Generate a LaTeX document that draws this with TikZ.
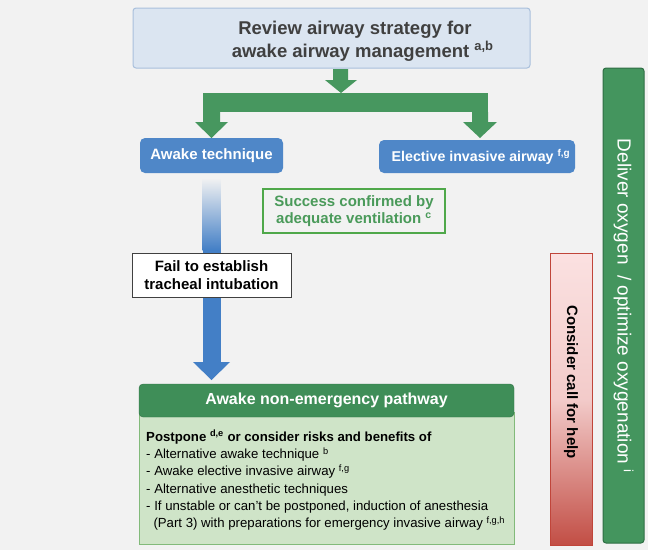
\documentclass[tikz,border=0pt]{standalone}
\usepackage{fontspec}
\setmainfont{Liberation Sans}
\definecolor{bg}{HTML}{F2F2F2}
\definecolor{titlefill}{HTML}{DBE5F1}
\definecolor{titledraw}{HTML}{A9C0DC}
\definecolor{titletext}{HTML}{404040}
\definecolor{arrgreen}{HTML}{47975F}
\definecolor{boxblue}{HTML}{4F87C8}
\definecolor{succgreen}{HTML}{4A9A5A}
\definecolor{succdraw}{HTML}{4FA84A}
\definecolor{headgreen}{HTML}{3F8E58}
\definecolor{bodygreen}{HTML}{CFE4C8}
\definecolor{bodydraw}{HTML}{82BA7A}
\definecolor{redtop}{HTML}{FBE1E1}
\definecolor{redbot}{HTML}{C24E45}
\definecolor{reddraw}{HTML}{C0453A}
\definecolor{barblue}{HTML}{437FC6}
\definecolor{bargreen}{HTML}{44955E}
\definecolor{bargreendraw}{HTML}{2F6E44}
\begin{document}
\begin{tikzpicture}[x=1pt,y=-1pt,
  titlebox/.style={draw=titledraw,fill=titlefill,rounded corners=3pt,line width=1pt,inner sep=0pt},
  titlelabel/.style={text=titletext,font=\fontsize{18.5}{23}\selectfont\bfseries,align=center,inner sep=0pt},
  bluebox/.style={fill=boxblue,rounded corners=5pt,text=white,
    font=\fontsize{15}{18}\selectfont\bfseries,inner sep=0pt},
  succbox/.style={draw=succdraw,line width=1.4pt,text=succgreen,
    font=\fontsize{15}{17.5}\selectfont\bfseries,align=center,inner sep=0pt},
  failbox/.style={draw=black!75,fill=white,line width=1pt,text=black,
    font=\fontsize{15}{18}\selectfont\bfseries,align=center,inner sep=0pt},
  headbox/.style={fill=headgreen,draw=headgreen!80!black,rounded corners=4pt,text=white,
    font=\fontsize{16}{18}\selectfont\bfseries,inner sep=0pt},
  bodytext/.style={font=\fontsize{13.2}{17.3}\selectfont,align=left,inner sep=0pt,anchor=north west},
  blockarrow/.style={fill=arrgreen,draw=none}
]
\useasboundingbox (0,0) rectangle (648,550);
\fill[bg] (0,0) rectangle (648,550);

% top box
\node[titlebox,minimum width=397pt,minimum height=60pt] (review) at (331.5,38) {};
\node[titlelabel] (reviewtext) at (355,41)
  {Review airway strategy for\\ \ \ \ awake airway management \textsuperscript{a,b}};

% blue boxes
\node[bluebox,minimum width=143pt,minimum height=35pt] (awake) at (211.5,155.5) {Awake technique};
\node[bluebox,minimum width=196pt,minimum height=33pt] (elective) at (477,156.5)
  {\fontsize{14.2}{16}\selectfont\ \ Elective invasive airway \textsuperscript{f,g}};

% green split arrow
\fill[blockarrow] (333,69) -- (348,69) -- (348,80) -- (357,80) -- (341,93) -- (325,80) -- (333,80) -- cycle;
\fill[blockarrow] (203,93) rectangle (488,112);
\fill[blockarrow] (203,112) -- (220,112) -- (220,122) -- (228,122) -- (211.5,138) -- (195,122) -- (203,122) -- cycle;
\fill[blockarrow] (472,112) -- (488,112) -- (488,122) -- (497,122) -- (480,138) -- (463,122) -- (472,122) -- cycle;

% success
\node[succbox,minimum width=182pt,minimum height=44pt] (success) at (354,211)
  {Success confirmed by\\ adequate ventilation \textsuperscript{c}};

% blue gradient arrow
\shade[top color=bg,bottom color=barblue] (202.5,178) rectangle (220.5,250);
\fill[barblue] (202.5,249.5) rectangle (220.5,362);
\fill[barblue] (193,362) -- (230,362) -- (211.5,380) -- cycle;

% fail
\node[failbox,minimum width=159pt,minimum height=44pt] (fail) at (211.5,275)
  {Fail to establish\\ tracheal intubation};

% pathway
\fill[bodygreen,draw=bodydraw,line width=1pt] (139,412) rectangle (514,544);
\node[headbox,minimum width=375pt,minimum height=33pt] (pathway) at (326.5,400.5)
  {Awake non-emergency pathway};
\node[bodytext] (body) at (146,430)
  {\textbf{Postpone \textsuperscript{d,e} or consider risks and benefits of}\\
   - Alternative awake technique \textsuperscript{b}\\
   - Awake elective invasive airway \textsuperscript{f,g}\\
   - Alternative anesthetic techniques\\
   - If unstable or can't be postponed, induction of anesthesia\\
   \ \ (Part 3) with preparations for emergency invasive airway \textsuperscript{f,g,h}};

% red bar
\shade[top color=redtop,bottom color=redbot,middle color=redtop!85!redbot,draw=reddraw,line width=1pt]
  (550,253) rectangle (592,545);
\node[rotate=-90,font=\fontsize{15}{17}\selectfont\bfseries,text=black,inner sep=0pt] (help) at (571,382)
  {Consider call for help};

% green bar
\fill[bargreen,draw=bargreendraw,line width=1pt,rounded corners=3pt] (603,68) rectangle (644,543);
\node[rotate=-90,font=\fontsize{19}{21}\selectfont,text=white,inner sep=0pt] (oxygen) at (623.5,306)
  {Deliver oxygen\ \ / optimize oxygenation \textsuperscript{i}};
\end{tikzpicture}
\end{document}
